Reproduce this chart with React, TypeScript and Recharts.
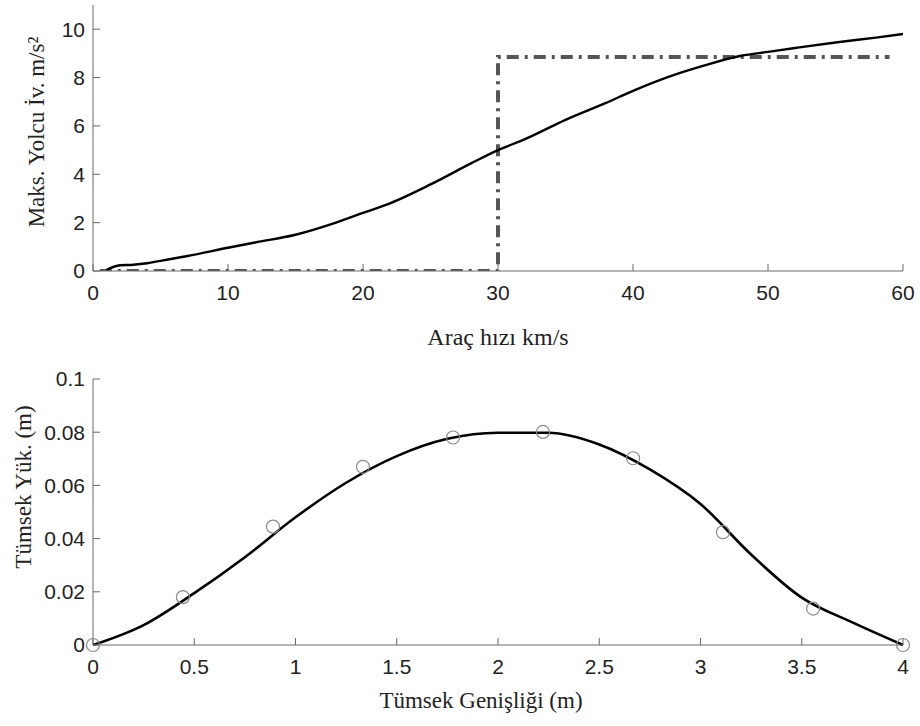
import {
  ComposedChart,
  Line,
  Scatter,
  XAxis,
  YAxis,
  Label,
} from "recharts";

// top chart: max passenger acceleration vs vehicle speed
const speedX = [1, 2, 3, 4, 5, 7, 10, 12, 15, 18, 20, 22, 25, 28, 30, 32, 35, 38, 40, 43, 45, 48, 50, 52, 55, 58, 60];
const accelY = [0.05, 0.24, 0.26, 0.32, 0.42, 0.62, 0.96, 1.18, 1.5, 2.0, 2.4, 2.8, 3.58, 4.45, 5.0, 5.45, 6.25, 6.95, 7.45, 8.1, 8.45, 8.9, 9.06, 9.22, 9.45, 9.65, 9.8];
const limitX = [0.5, 30, 30, 59];
const limitY = [0, 0, 8.85, 8.85];
const speedTicks = [0, 10, 20, 30, 40, 50, 60];
const accelTicks = [0, 2, 4, 6, 8, 10];

// bottom chart: bump profile
const bumpX = [0, 0.25, 0.5, 0.75, 1.0, 1.25, 1.5, 1.75, 2.0, 2.25, 2.5, 2.75, 3.0, 3.25, 3.5, 3.75, 4.0];
const bumpY = [0, 0.0075, 0.0195, 0.033, 0.048, 0.061, 0.071, 0.0775, 0.0798, 0.0798, 0.0754, 0.066, 0.053, 0.034, 0.0178, 0.0085, 0];
const markX = [0, 0.444, 0.889, 1.333, 1.778, 2.222, 2.667, 3.111, 3.556, 4.0];
const markY = [0, 0.018, 0.0445, 0.067, 0.078, 0.0801, 0.0702, 0.0424, 0.0137, 0];
const widthTicks = [0, 0.5, 1, 1.5, 2, 2.5, 3, 3.5, 4];
const heightTicks = [0, 0.02, 0.04, 0.06, 0.08, 0.1];

const accelData = speedX.map((x, i) => ({ x, y: accelY[i] }));
const limitData = limitX.map((x, i) => ({ x, y: limitY[i] }));
const bumpData = bumpX.map((x, i) => ({ x, y: bumpY[i] }));
const markData = markX.map((x, i) => ({ x, y: markY[i] }));

const AXIS = "#6a6a6a";
const tickStyle = { fontFamily: "'Liberation Sans', Arial, sans-serif", fontSize: 21, fill: "#222" };
const titleFont = "'Liberation Serif', 'Times New Roman', serif";

const MarkCircle = (props: any) => (
  <circle cx={props.cx} cy={props.cy} r={6.5} fill="none" stroke="#8a8a8a" strokeWidth={1.2} />
);

const App = () => {
  return (
    <div style={{ position: "absolute", left: 0, top: 0, width: 920, height: 726, background: "#fff" }}>
      <div style={{ position: "absolute", left: 0, top: 0 }}>
        <ComposedChart width={920} height={360} margin={{ top: 5, right: 17, bottom: 0, left: 0 }}>
          <XAxis
            dataKey="x"
            type="number"
            domain={[0, 60]}
            ticks={speedTicks}
            height={89}
            stroke={AXIS}
            tickSize={-7}
            tickMargin={21}
            tick={tickStyle}
            allowDataOverflow
          >
            <Label
              value="Araç hızı km/s"
              position="insideBottom"
              offset={15}
              style={{ fontFamily: titleFont, fontSize: 24, fill: "#222" }}
            />
          </XAxis>
          <XAxis
            xAxisId="top"
            orientation="top"
            type="number"
            domain={[0, 60]}
            ticks={speedTicks}
            height={0}
            stroke={AXIS}
            tickSize={-7}
            tick={false}
          />
          <YAxis
            type="number"
            domain={[0, 11]}
            ticks={accelTicks}
            width={93}
            stroke={AXIS}
            tickSize={-7}
            tickMargin={15}
            tick={tickStyle}
            allowDataOverflow
          >
            <Label
              content={() => (
                <text
                  transform="translate(44,132) rotate(-90)"
                  textAnchor="middle"
                  fontFamily={titleFont}
                  fontSize={23}
                  fill="#222"
                >
                  Maks. Yolcu İv. m/s²
                </text>
              )}
            />
          </YAxis>
          <YAxis
            yAxisId="right"
            orientation="right"
            type="number"
            domain={[0, 11]}
            ticks={accelTicks}
            width={0}
            stroke={AXIS}
            tickSize={-7}
            tick={false}
          />
          <Line
            data={limitData}
            dataKey="y"
            type="linear"
            stroke="#555"
            strokeWidth={4}
            strokeDasharray="12 6 3 6"
            dot={false}
            isAnimationActive={false}
          />
          <Line
            data={accelData}
            dataKey="y"
            type="monotone"
            stroke="#000"
            strokeWidth={2.4}
            dot={false}
            isAnimationActive={false}
          />
        </ComposedChart>
      </div>
      <div style={{ position: "absolute", left: 0, top: 360 }}>
        <ComposedChart width={920} height={366} margin={{ top: 19, right: 17, bottom: 0, left: 0 }}>
          <XAxis
            dataKey="x"
            type="number"
            domain={[0, 4]}
            ticks={widthTicks}
            height={81}
            stroke={AXIS}
            tickSize={-7}
            tickMargin={21}
            tick={tickStyle}
          >
            <Label
              content={() => (
                <text
                  x={481}
                  y={348}
                  textAnchor="middle"
                  fontFamily={titleFont}
                  fontSize={23}
                  fill="#222"
                >
                  Tümsek Genişliği (m)
                </text>
              )}
            />
          </XAxis>
          <YAxis
            type="number"
            domain={[0, 0.1]}
            ticks={heightTicks}
            width={93}
            stroke={AXIS}
            tickSize={-7}
            tickMargin={15}
            tick={tickStyle}
          >
            <Label
              content={() => (
                <text
                  transform="translate(31,127) rotate(-90)"
                  textAnchor="middle"
                  fontFamily={titleFont}
                  fontSize={23}
                  fill="#222"
                >
                  Tümsek Yük. (m)
                </text>
              )}
            />
          </YAxis>
          <Line
            data={bumpData}
            dataKey="y"
            type="monotone"
            stroke="#000"
            strokeWidth={2.6}
            dot={false}
            isAnimationActive={false}
          />
          <Scatter data={markData} dataKey="y" shape={MarkCircle} isAnimationActive={false} />
        </ComposedChart>
      </div>
    </div>
  );
};

export default App;
